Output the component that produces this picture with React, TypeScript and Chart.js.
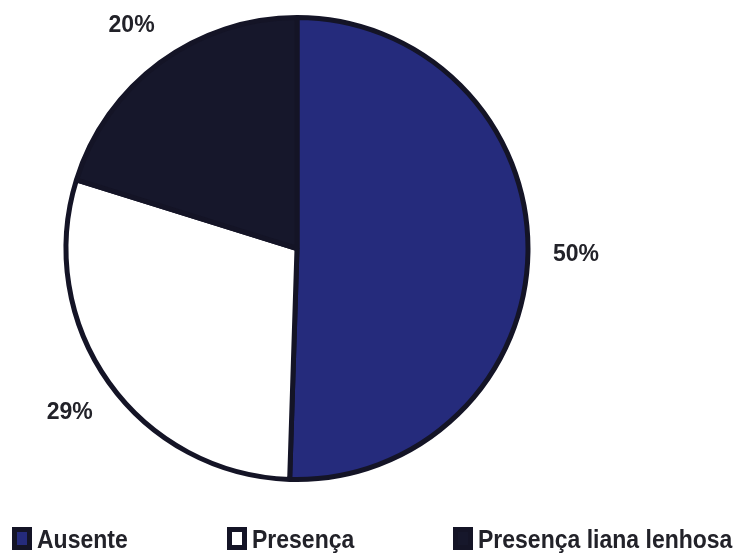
import { useEffect, useRef } from "react";
import { Chart, registerables } from "chart.js";

Chart.register(...registerables);

const labels = ["Ausente", "Presença", "Presença liana lenhosa"];
const values = [50, 29, 20];
const colors = ["#252b7c", "#ffffff", "#16172b"];

const BORDER = "#141426";
const TEXT = "#222229";
const LEGEND_X = [12, 227, 453];
const LEGEND_Y = 527;

const outsideLabels = {
  id: "outsideLabels",
  afterDatasetsDraw(chart: any) {
    const ctx = chart.ctx;
    const meta = chart.getDatasetMeta(0);
    ctx.save();
    ctx.font = "bold 23px 'Liberation Sans', Arial, sans-serif";
    ctx.fillStyle = TEXT;
    ctx.textAlign = "center";
    ctx.textBaseline = "middle";
    meta.data.forEach((arc: any, i: number) => {
      const { x, y, startAngle, endAngle, outerRadius } = arc.getProps(
        ["x", "y", "startAngle", "endAngle", "outerRadius"],
        true
      );
      const mid = (startAngle + endAngle) / 2;
      const r = outerRadius + 48;
      ctx.fillText(values[i] + "%", x + Math.cos(mid) * r, y + Math.sin(mid) * r + 2);
    });
    ctx.restore();
  },
};

const bottomLegend = {
  id: "bottomLegend",
  afterDraw(chart: any) {
    const ctx = chart.ctx;
    const ds = chart.data.datasets[0];
    ctx.save();
    chart.data.labels.forEach((lab: string, i: number) => {
      const bx = LEGEND_X[i];
      const by = LEGEND_Y;
      ctx.fillStyle = BORDER;
      ctx.fillRect(bx, by, 20, 23);
      ctx.fillStyle = ds.backgroundColor[i];
      ctx.fillRect(bx + 5, by + 5, 10, 13);
      ctx.save();
      ctx.translate(bx + 25, by + 21);
      ctx.scale(1, 1.15);
      ctx.font = "bold 23px 'Liberation Sans', Arial, sans-serif";
      ctx.fillStyle = TEXT;
      ctx.textAlign = "left";
      ctx.textBaseline = "alphabetic";
      ctx.fillText(lab, 0, 0);
      ctx.restore();
    });
    ctx.restore();
  },
};

export default function App() {
  const ref = useRef<HTMLCanvasElement | null>(null);
  useEffect(() => {
    if (!ref.current) return;
    const chart = new Chart(ref.current, {
      type: "pie",
      data: {
        labels,
        datasets: [
          {
            data: values,
            backgroundColor: colors,
            borderColor: BORDER,
            borderWidth: 5,
          },
        ],
      },
      options: {
        animation: false,
        responsive: true,
        maintainAspectRatio: false,
        radius: 231,
        layout: { padding: { left: 0, right: 153, top: 0, bottom: 58 } },
        plugins: {
          legend: { display: false },
          tooltip: { enabled: false },
        },
      },
      plugins: [outsideLabels, bottomLegend],
    });
    return () => chart.destroy();
  }, []);
  return (
    <div style={{ position: "absolute", left: 0, top: 0, width: 747, height: 555, background: "#fff" }}>
      <canvas ref={ref} />
    </div>
  );
}
